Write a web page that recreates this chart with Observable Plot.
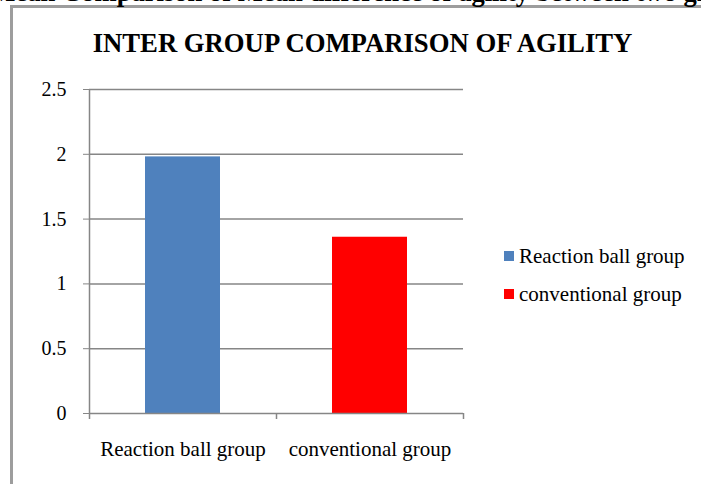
<!DOCTYPE html>
<html><head><meta charset="utf-8">
<script src="https://cdn.jsdelivr.net/npm/d3@7"></script>
<script src="https://cdn.jsdelivr.net/npm/@observablehq/plot@0.6"></script>
<style>
html,body{margin:0;padding:0;background:#fff;}
body{width:701px;height:484px;overflow:hidden;position:relative;font-family:"Liberation Serif","Times New Roman",serif;color:#000;}
#cap{position:absolute;top:0;left:0;}
#box{position:absolute;left:10px;top:5px;width:800px;height:600px;border-left:3px solid #9d9d9d;border-top:3px solid #9d9d9d;}
#title{position:absolute;left:0;width:725px;text-align:center;top:30px;font-weight:bold;font-size:26.7px;line-height:26px;white-space:nowrap;}
#chart{position:absolute;left:0;top:0;}
#legend{position:absolute;left:504px;top:237px;font-size:21px;line-height:21px;}
.li{display:flex;align-items:center;height:38px;white-space:nowrap;}
.sw{width:10px;height:10px;margin-right:5px;}
svg [aria-label="y-axis tick"] path, svg [aria-label="x-axis tick"] path{stroke:#868686;}
</style></head>
<body>
<div id="box"></div>
<svg id="cap" width="701" height="12"><text id="capt" y="1" font-family="Liberation Serif" font-weight="bold" font-size="26.6"><tspan id="pre">Figure 2: Intergroup Mean </tspan><tspan>Comparison of Mean difference of agility between two groups</tspan></text></svg>
<div id="title">INTER GROUP COMPARISON OF AGILITY</div>
<div id="chart"></div>
<div id="legend"></div>
<script>
// Data
const groups = ["Reaction ball group", "conventional group"];
const values = [1.98, 1.36];
const colors = ["#4F81BD", "#FF0000"];
const yTicks = [0, 0.5, 1, 1.5, 2, 2.5];

const data = groups.map((g, i) => ({group: g, value: values[i], color: colors[i]}));

// position the cut-off caption so that "Comparison" starts near x=62
const preLen = document.getElementById("pre").getComputedTextLength();
document.getElementById("capt").setAttribute("x", 62 - preLen);

const W = 701, H = 484, mL = 89, mR = 238, mT = 89, mB = 71;
const pInner = 0.6, pOuter = 0.3;
const step = (W - mL - mR) / (groups.length - pInner + 2 * pOuter);
const gray = "#868686";

const chart = Plot.plot({
  width: W, height: H,
  marginLeft: mL, marginRight: mR, marginTop: mT, marginBottom: mB,
  style: {fontFamily: '"Liberation Serif","Times New Roman",serif', fontSize: "20px", color: "#000", background: "transparent", overflow: "visible"},
  x: {domain: groups, paddingInner: pInner, paddingOuter: pOuter, label: null, tickSize: 0, tickPadding: 28},
  y: {domain: [0, 2.5], ticks: yTicks, tickFormat: d => String(d), label: null, tickSize: 6, tickPadding: 17},
  marks: [
    Plot.ruleY(yTicks.filter(d => d > 0), {y: d => d, stroke: gray, strokeWidth: 1.5}),
    Plot.barY(data, {x: "group", y: "value", fill: "color"}),
    // x baseline
    Plot.ruleY([0], {y: d => d, stroke: gray, strokeWidth: 1.5}),
    // y axis line at left band boundary
    Plot.ruleX([groups[0]], {x: d => d, dx: -step / 2, y1: 0, y2: 2.5, stroke: gray, strokeWidth: 1.5}),
    // x ticks at band boundaries
    Plot.ruleX(groups, {x: d => d, dx: -step / 2, y1: 0, y2: 0, insetBottom: -6, stroke: gray, strokeWidth: 1.5}),
    Plot.ruleX([groups[groups.length - 1]], {x: d => d, dx: step / 2, y1: 0, y2: 0, insetBottom: -6, stroke: gray, strokeWidth: 1.5})
  ]
});
chart.querySelectorAll('[aria-label="x-axis tick label"] text, [aria-label="x-axis tick label"]').forEach(e => e.setAttribute("font-size", "21"));
document.getElementById("chart").appendChild(chart);

// legend
const lg = document.getElementById("legend");
data.forEach(d => {
  const row = document.createElement("div");
  row.className = "li";
  row.innerHTML = `<div class="sw" style="background:${d.color}"></div><span>${d.group}</span>`;
  lg.appendChild(row);
});
</script>
</body></html>
